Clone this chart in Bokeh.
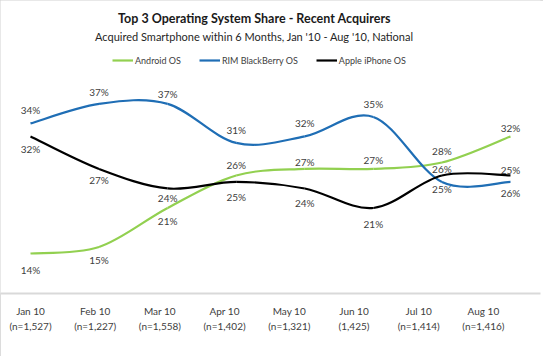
from bokeh.plotting import figure
from bokeh.models import Range1d, FixedTicker, LinearAxis, Legend, LegendItem, Label, ColumnDataSource
from bokeh.embed import file_html
from bokeh.resources import INLINE
from bokeh.core.properties import value

# ---------------- data ----------------
months = ["Jan 10", "Feb 10", "Mar 10", "Apr 10", "May 10", "Jun 10", "Jul 10", "Aug 10"]
samples = ["(n=1,527)", "(n=1,227)", "(n=1,558)", "(n=1,402)", "(n=1,321)", "(1,425)", "(n=1,414)", "(n=1,416)"]
android = [14, 15, 21, 26, 27, 27, 28, 32]
rim = [34, 37, 37, 31, 32, 35, 25, 25]
apple = [32, 27, 24, 25, 24, 21, 26, 26]

# label offsets in screen pixels (positive = downward)
android_off = [16, 13.5, 13, -10, -7, -9, -11, -8]
rim_off = [-13, -12, -9.5, -13, -13, -12.5, 7, -12]
apple_off = [13, 11, 10, 15, 15, 16, -6, 18]

GREEN = "#92D050"
BLUE = "#1F6EB5"
BLACK = "#000000"
TXT = "#404040"
FONT = "Lato"

W, H = 543, 356
BOTTOM = 63
FRAME_W = W - 3
FRAME_H = H - BOTTOM
STEP = 68.57          # px between months (data)
LSTEP = 64.7          # px between month labels
X0 = 30               # px of first month
Y_START, Y_END = 7.85, 52.9
PX_PER_UNIT = FRAME_H / (Y_END - Y_START)

p = figure(width=W, height=H, output_backend="svg", toolbar_location=None,
           x_axis_location=None, y_axis_location=None, title_location=None,
           x_range=Range1d(-X0 / STEP, (FRAME_W - X0) / STEP),
           y_range=Range1d(Y_START, Y_END),
           min_border_left=0, min_border_right=W - FRAME_W,
           min_border_top=0, min_border_bottom=BOTTOM)
p.outline_line_color = None
p.grid.visible = False
p.background_fill_color = "white"
p.border_fill_color = "white"
p.styles = {"outline": "1px solid #d0d0d0", "outline-offset": "-1px"}

p.extra_x_ranges = {"cats": Range1d(-X0 / LSTEP, (FRAME_W - X0) / LSTEP)}
ax = LinearAxis(x_range_name="cats")
ax.ticker = FixedTicker(ticks=list(range(len(months))))
ax.major_label_overrides = {i: f"{m}\n{s}" for i, (m, s) in enumerate(zip(months, samples))}
ax.major_tick_line_color = None
ax.minor_tick_line_color = None
ax.axis_line_color = "#d9d9d9"
ax.axis_line_width = 2
ax.major_label_standoff = 5
ax.major_label_text_font = FONT
ax.major_label_text_font_size = "10px"
ax.major_label_text_color = TXT
ax.major_label_text_line_height = 1.3
p.add_layout(ax, "below")


def bezier_source(vals):
    n = len(vals)
    xs = list(range(n))
    ext = [vals[0]] + list(vals) + [vals[-1]]
    extx = [xs[0]] + xs + [xs[-1]]
    d = dict(x0=[], y0=[], x1=[], y1=[], cx0=[], cy0=[], cx1=[], cy1=[])
    for i in range(n - 1):
        d["x0"].append(xs[i]); d["y0"].append(vals[i])
        d["x1"].append(xs[i + 1]); d["y1"].append(vals[i + 1])
        d["cx0"].append(xs[i] + (extx[i + 2] - extx[i]) / 6)
        d["cy0"].append(vals[i] + (ext[i + 2] - ext[i]) / 6)
        d["cx1"].append(xs[i + 1] - (extx[i + 3] - extx[i + 1]) / 6)
        d["cy1"].append(vals[i + 1] - (ext[i + 3] - ext[i + 1]) / 6)
    return ColumnDataSource(d)


renderers = []
for vals, col in [(android, GREEN), (rim, BLUE), (apple, BLACK)]:
    r = p.bezier(x0="x0", y0="y0", x1="x1", y1="y1", cx0="cx0", cy0="cy0", cx1="cx1", cy1="cy1",
                 source=bezier_source(vals), line_color=col, line_width=2.2)
    renderers.append(r)

for vals, offs in [(android, android_off), (rim, rim_off), (apple, apple_off)]:
    src = ColumnDataSource(dict(x=list(range(len(vals))),
                                y=[v - o / PX_PER_UNIT for v, o in zip(vals, offs)],
                                t=[f"{v}%" for v in vals]))
    p.text(x="x", y="y", text="t", source=src, text_font=value(FONT), text_font_size="10px",
           text_color=TXT, text_align="center", text_baseline="middle")

legend = Legend(items=[LegendItem(label="Android OS", renderers=[renderers[0]]),
                       LegendItem(label="RIM BlackBerry OS", renderers=[renderers[1]]),
                       LegendItem(label="Apple iPhone OS", renderers=[renderers[2]])],
                orientation="horizontal", location=(112, FRAME_H - 66),
                border_line_color=None, background_fill_alpha=0, padding=0, margin=0,
                spacing=18, label_text_font=FONT, label_text_font_size="9px",
                label_text_color=TXT, glyph_width=21, glyph_height=10, label_standoff=2,
                label_height=12)
p.add_layout(legend, "center")

p.add_layout(Label(x=254, y=FRAME_H - 18, x_units="screen", y_units="screen",
                   text="Top 3 Operating System Share - Recent Acquirers",
                   text_font=FONT, text_font_style="bold", text_font_size="12.5px",
                   text_color="#1a1a1a", text_align="center", text_baseline="middle"))
p.add_layout(Label(x=254, y=FRAME_H - 36, x_units="screen", y_units="screen",
                   text="Acquired Smartphone within 6 Months, Jan '10 - Aug '10, National",
                   text_font=FONT, text_font_size="11px",
                   text_color="#262626", text_align="center", text_baseline="middle"))

open("out.html", "w").write(file_html(p, INLINE))
